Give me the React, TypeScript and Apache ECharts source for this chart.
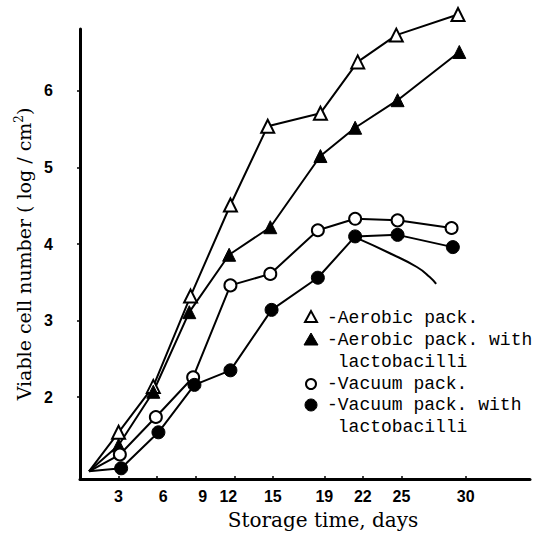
import React, { useEffect, useRef } from "react";
import * as echarts from "echarts";

const xTickDays = [3, 6, 9, 12, 15, 19, 22, 25, 30];
const yTickValues = [2, 3, 4, 5, 6];

const aerobicDays = [0.7, 3.0, 5.7, 8.6, 11.7, 14.6, 18.7, 21.6, 24.6, 29.4];
const aerobicVals = [1.03, 1.54, 2.14, 3.32, 4.51, 5.54, 5.71, 6.38, 6.73, 7.0];
const aerobicLactoDays = [0.7, 3.0, 5.7, 8.5, 11.6, 14.8, 18.7, 21.4, 24.7, 29.5];
const aerobicLactoVals = [1.03, 1.37, 2.07, 3.11, 3.86, 4.22, 5.15, 5.52, 5.88, 6.51];
const vacuumDays = [0.7, 3.1, 5.9, 8.8, 11.7, 14.8, 18.5, 21.4, 24.7, 28.9];
const vacuumVals = [1.03, 1.25, 1.74, 2.26, 3.46, 3.61, 4.18, 4.33, 4.31, 4.21];
const vacuumLactoDays = [0.7, 3.2, 6.1, 8.9, 11.7, 14.9, 18.5, 21.4, 24.7, 29.0];
const vacuumLactoVals = [1.03, 1.07, 1.54, 2.16, 2.35, 3.14, 3.56, 4.10, 4.12, 3.96];
const curveDays = [21.5, 24.1, 26.2, 27.2, 27.7];
const curveVals = [4.08, 3.88, 3.70, 3.57, 3.48];

const legendLabels = [
  "-Aerobic pack.",
  "-Aerobic pack. with",
  " lactobacilli",
  "-Vacuum pack.",
  "-Vacuum pack. with",
  " lactobacilli",
];

function pts(days: number[], vals: number[]) {
  return days.map((d, i) =>
    i === 0 ? { value: [d, vals[i]], symbol: "none" } : { value: [d, vals[i]] }
  );
}

export default function App() {
  const ref = useRef<HTMLDivElement>(null);
  useEffect(() => {
    if (!ref.current) return;
    const chart = echarts.init(ref.current, undefined, { renderer: "svg" });
    const mono = "Liberation Mono";
    const legendX = 327;
    const rowY = [318, 340, 362, 384, 405, 427];
    const lineBase = {
      type: "line",
      clip: false,
      symbolSize: 13,
      lineStyle: { color: "#000", width: 2 },
      z: 3,
    };
    const tickFont = {
      fontFamily: "Liberation Sans",
      fontWeight: "bold",
      fontSize: 16,
      color: "#000",
    };
    chart.setOption({
      animation: false,
      backgroundColor: "#fff",
      grid: { left: 80, right: 18, top: 29, bottom: 56 },
      xAxis: {
        type: "value",
        min: 0,
        max: 35,
        splitLine: { show: false },
        axisLine: { lineStyle: { color: "#000", width: 3 } },
        axisTick: {
          customValues: xTickDays,
          inside: true,
          length: 3,
          lineStyle: { color: "#000", width: 1.5 },
        },
        axisLabel: {
          customValues: xTickDays,
          margin: 9,
          ...tickFont,
          formatter: (v: number) => {
            if (v === 6) return "{r|6}";
            if (v === 9) return "{r2|9}";
            if (v === 12) return "{l|12}";
            return String(v);
          },
          rich: {
            r: { ...tickFont, padding: [0, 0, 0, 12] },
            r2: { ...tickFont, padding: [0, 0, 0, 14] },
            l: { ...tickFont, padding: [0, 12, 0, 0] },
          },
        },
        name: "Storage time, days",
        nameLocation: "middle",
        nameGap: 31,
        nameTextStyle: {
          color: "#000",
          fontFamily: "DejaVu Serif",
          fontSize: 20,
          padding: [0, 0, 0, 36],
        },
      },
      yAxis: {
        type: "value",
        min: 0.93,
        max: 6.81,
        splitLine: { show: false },
        axisLine: { lineStyle: { color: "#000", width: 3 } },
        axisTick: {
          customValues: yTickValues,
          length: 3,
          lineStyle: { color: "#000", width: 1.5 },
        },
        axisLabel: {
          customValues: yTickValues,
          margin: 27,
          ...tickFont,
        },
        name: "Viable cell number ( log / cm{sup|2})",
        nameLocation: "middle",
        nameGap: 34,
        nameTextStyle: {
          color: "#000",
          fontFamily: "DejaVu Serif",
          fontSize: 19,
          rich: {
            sup: {
              fontFamily: "DejaVu Serif",
              fontSize: 12,
              color: "#000",
              verticalAlign: "top",
              padding: [0, 0, 9, 0],
            },
          },
        },
      },
      series: [
        {
          ...lineBase,
          name: "Aerobic pack.",
          symbol: "triangle",
          itemStyle: { color: "#fff", borderColor: "#000", borderWidth: 2 },
          data: pts(aerobicDays, aerobicVals),
        },
        {
          ...lineBase,
          name: "Aerobic pack. with lactobacilli",
          symbol: "triangle",
          itemStyle: { color: "#000", borderColor: "#000", borderWidth: 1 },
          data: pts(aerobicLactoDays, aerobicLactoVals),
        },
        {
          ...lineBase,
          name: "Vacuum pack.",
          symbol: "circle",
          symbolSize: 12,
          itemStyle: { color: "#fff", borderColor: "#000", borderWidth: 2 },
          data: pts(vacuumDays, vacuumVals),
        },
        {
          ...lineBase,
          name: "Vacuum pack. with lactobacilli",
          symbol: "circle",
          symbolSize: 13,
          itemStyle: { color: "#000", borderColor: "#000", borderWidth: 1 },
          data: pts(vacuumLactoDays, vacuumLactoVals),
        },
        {
          type: "line",
          name: "curve",
          clip: false,
          smooth: true,
          symbol: "none",
          lineStyle: { color: "#000", width: 2 },
          z: 2,
          data: curveDays.map((d, i) => [d, curveVals[i]]),
        },
      ],
      graphic: [
        {
          type: "polygon",
          shape: { points: [[311, 311], [305, 322], [317, 322]] },
          style: { fill: "#fff", stroke: "#000", lineWidth: 2 },
        },
        {
          type: "polygon",
          shape: { points: [[311, 333], [304, 345], [318, 345]] },
          style: { fill: "#000", stroke: "#000", lineWidth: 1 },
        },
        {
          type: "circle",
          shape: { cx: 311, cy: 384, r: 5 },
          style: { fill: "#fff", stroke: "#000", lineWidth: 2 },
        },
        {
          type: "circle",
          shape: { cx: 311, cy: 405, r: 6 },
          style: { fill: "#000", stroke: "#000", lineWidth: 1 },
        },
        ...legendLabels.map((t, i) => ({
          type: "text",
          x: legendX,
          y: rowY[i],
          style: {
            text: t,
            fill: "#000",
            font: `18px "${mono}"`,
            textVerticalAlign: "middle",
            verticalAlign: "middle",
          },
        })),
      ],
    });
    return () => chart.dispose();
  }, []);
  return (
    <div
      ref={ref}
      style={{ position: "fixed", left: 0, top: 0, width: 548, height: 535 }}
    />
  );
}
